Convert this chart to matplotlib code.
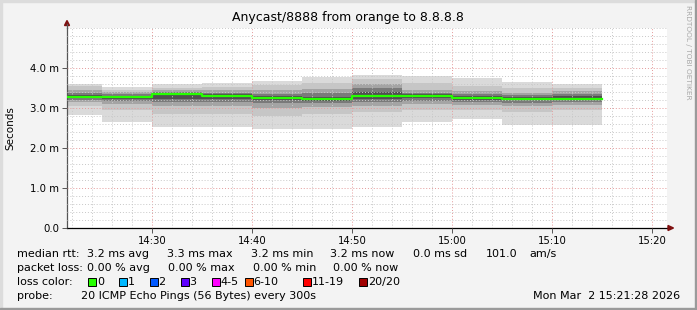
import datetime
import matplotlib
matplotlib.use('Agg')
import matplotlib.pyplot as plt
import matplotlib.dates as mdates
from matplotlib.ticker import MultipleLocator, FixedLocator, FuncFormatter
from matplotlib.patches import Polygon, Rectangle
import numpy as np

W, H = 697, 310

# rrd step edges (5 min), the first step is clipped by the graph start
step_edges = ['14:21:28', '14:25:00', '14:30:00', '14:35:00', '14:40:00', '14:45:00',
              '14:50:00', '14:55:00', '15:00:00', '15:05:00', '15:10:00', '15:15:00']
median_ms = [3.28, 3.28, 3.34, 3.30, 3.26, 3.22, 3.31, 3.30, 3.25, 3.23, 3.23]

# smoke bands, outer (lightest) to inner (darkest)
band1_lo = [2.83, 2.66, 2.52, 2.53, 2.48, 2.47, 2.53, 2.66, 2.72, 2.58, 2.58]
band1_hi = [3.60, 3.52, 3.60, 3.63, 3.67, 3.78, 3.82, 3.80, 3.76, 3.64, 3.59]
band2_lo = [3.05, 2.95, 2.85, 2.85, 2.80, 2.85, 2.90, 2.95, 2.95, 2.90, 2.95]
band2_hi = [3.55, 3.45, 3.50, 3.52, 3.58, 3.62, 3.72, 3.62, 3.55, 3.50, 3.50]
band3_lo = [3.15, 3.10, 3.05, 3.05, 3.00, 3.02, 3.05, 3.10, 3.08, 3.05, 3.08]
band3_hi = [3.45, 3.40, 3.45, 3.45, 3.45, 3.48, 3.60, 3.45, 3.42, 3.38, 3.42]
band4_lo = [3.20, 3.18, 3.15, 3.15, 3.12, 3.12, 3.15, 3.18, 3.15, 3.13, 3.15]
band4_hi = [3.38, 3.35, 3.40, 3.38, 3.35, 3.38, 3.50, 3.38, 3.35, 3.32, 3.35]
band5_lo = [3.24, 3.22, 3.22, 3.22, 3.20, 3.18, 3.22, 3.24, 3.21, 3.19, 3.20]
band5_hi = [3.32, 3.31, 3.37, 3.34, 3.30, 3.28, 3.40, 3.34, 3.30, 3.28, 3.30]
band_colors = ['#dadada', '#c6c6c6', '#a4a4a4', '#7a7a7a', '#505050']

y_ticks = [0.0, 1.0, 2.0, 3.0, 4.0]

loss_labels = ['0', '1', '2', '3', '4-5', '6-10', '11-19', '20/20']
loss_colors = ['#26ff00', '#00b8ff', '#0059ff', '#5e00ff', '#ff00ff', '#ff5500', '#ff0000', '#a00000']

t_start, t_end = '14:21:28', '15:21:28'


def t(s):
    return datetime.datetime.strptime('2026-03-02 ' + s, '%Y-%m-%d %H:%M:%S')


def px(x, y):
    return x / W, 1 - y / H


fig = plt.figure(figsize=(W / 100, H / 100), dpi=100, facecolor='#f3f3f3')
ax = fig.add_axes([67 / W, 1 - 228 / H, 600 / W, 200 / H])
ax.set_facecolor('white')

x = mdates.date2num([t(s) for s in step_edges])
ext = lambda v: np.append(v, v[-1])

bands = [(band1_lo, band1_hi), (band2_lo, band2_hi), (band3_lo, band3_hi),
         (band4_lo, band4_hi), (band5_lo, band5_hi)]
for (lo, hi), c in zip(bands, band_colors):
    ax.fill_between(x, ext(lo), ext(hi), step='post', color=c, linewidth=0, zorder=1)
ax.step(x, ext(median_ms), where='post', color='#26ff00', lw=1.6, zorder=3)

ax.set_xlim(t(t_start), t(t_end))
ax.set_ylim(0, 5.0)
ax.xaxis.set_major_locator(mdates.MinuteLocator(byminute=range(0, 60, 10)))
ax.xaxis.set_minor_locator(mdates.MinuteLocator(byminute=range(0, 60, 2)))
ax.xaxis.set_major_formatter(mdates.DateFormatter('%H:%M'))
ax.yaxis.set_major_locator(FixedLocator(y_ticks))
ax.yaxis.set_minor_locator(MultipleLocator(0.2))
ax.yaxis.set_major_formatter(FuncFormatter(lambda v, p: '0.0' if v == 0 else '%.1f m' % v))

ax.set_axisbelow(False)
ax.grid(which='minor', color='#c8c8c8', ls=(0, (1, 2)), lw=0.7, zorder=2)
ax.grid(which='major', color='#e49a9a', ls=(0, (1, 2)), lw=0.7, zorder=2)
ax.tick_params(which='minor', length=0)
ax.tick_params(which='major', length=3.5, width=0.7, color='#555555', labelsize=7.3, pad=2)

for s in ['top', 'right']:
    ax.spines[s].set_visible(False)
ax.spines['left'].set_color('#555555')
ax.spines['bottom'].set_color('#000000')
ax.spines['left'].set_linewidth(0.9)
ax.spines['bottom'].set_linewidth(0.9)

# axis arrows
fig.add_artist(plt.Line2D(*zip(px(67, 28), px(67, 24)), color='#555555', lw=0.9, transform=fig.transFigure))
fig.add_artist(Polygon([px(64.5, 25.5), px(69.5, 25.5), px(67, 20.5)], closed=True,
                       color='#7f1010', transform=fig.transFigure))
fig.add_artist(Polygon([px(668, 225.5), px(668, 230.5), px(673.5, 228)], closed=True,
                       color='#7f1010', transform=fig.transFigure))

# title, labels, watermark
fig.text(*px(348, 18), 'Anycast/8888 from orange to 8.8.8.8', ha='center', va='center', fontsize=9)
fig.text(*px(10, 128), 'Seconds', ha='center', va='center', rotation=90, fontsize=7.5)
fig.text(*px(688, 5), 'RRDTOOL / TOBI OETIKER', ha='center', va='top', rotation=270,
         fontsize=5.3, color='#a8a8a8')

# legend rows
fs = 8
rows = [
    (254, [(16.7, 'median rtt:'), (87.3, '3.2 ms avg'), (167.3, '3.3 ms max'), (250.7, '3.2 ms min'),
           (330.3, '3.2 ms now'), (413.3, '0.0 ms sd'), (485.7, '101.0'), (529, 'am/s')]),
    (268, [(16.7, 'packet loss:'), (87.3, '0.00 % avg'), (168.3, '0.00 % max'), (253.3, '0.00 % min'),
           (333, '0.00 % now')]),
    (282, [(16.7, 'loss color:')]),
    (296, [(16.7, 'probe:'), (80.7, '20 ICMP Echo Pings (56 Bytes) every 300s')]),
]
for y, items in rows:
    for xx, s in items:
        fig.text(*px(xx, y), s, ha='left', va='center', fontsize=fs)

box_x = [88.3, 119.3, 150, 181, 212.3, 245, 303.3, 359.3]
for bx, lab, c in zip(box_x, loss_labels, loss_colors):
    fig.add_artist(Rectangle(px(bx, 286), 8 / W, 8 / H, facecolor=c, edgecolor='black',
                             lw=0.7, transform=fig.transFigure))
    fig.text(*px(bx + 8.5, 282), lab, ha='left', va='center', fontsize=fs)

fig.text(*px(680, 296), 'Mon Mar  2 15:21:28 2026', ha='right', va='center', fontsize=fs)

# canvas frame shading
fig.add_artist(Rectangle((0, 1 - 2 / H), 1, 2 / H, color='#dcdcdc', transform=fig.transFigure))
fig.add_artist(Rectangle((0, 0), 2 / W, 1, color='#dcdcdc', transform=fig.transFigure))
fig.add_artist(Rectangle((1 - 2 / W, 0), 2 / W, 1, color='#9a9a9a', transform=fig.transFigure))
fig.add_artist(Rectangle((0, 0), 1, 2 / H, color='#9a9a9a', transform=fig.transFigure))

fig.savefig('out.png', dpi=100, facecolor=fig.get_facecolor())
